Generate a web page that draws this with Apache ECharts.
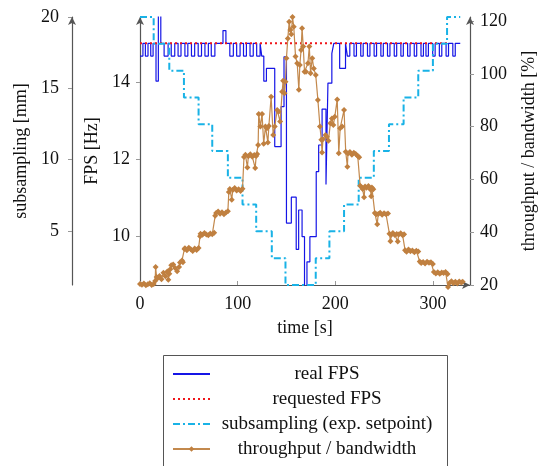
<!DOCTYPE html>
<html>
<head>
<meta charset="utf-8">
<script src="https://cdn.jsdelivr.net/npm/echarts@6/dist/echarts.min.js"></script>
<style>
html,body{margin:0;padding:0;background:#fff;}
#chart{width:547px;height:466px;}
</style>
</head>
<body>
<div id="chart"></div>
<script>
// tick positions
var timeTicks = [0, 100, 200, 300];
var fpsTicks = [10, 12, 14];
var subTicks = [5, 10, 15, 20];
var thrTicks = [20, 40, 60, 80, 100, 120];

// real FPS, [time s, Hz], each value holds until the next time
var realFps = [
    [0,14.67],[3,15],[5.5,14.67],[8.2,15],[11,14.67],[13.4,15],[16.4,14.02],[18.8,15.9],[21.3,15],
    [24.7,14.67],[28.8,15],[32,14.67],[35.6,15],[39,14.67],[42,15],[46,14.67],[49,15],[52.7,14.67],[56,15],
    [59.6,14.67],[63,15],[66.5,14.67],[70,15],[73,14.67],[76.7,15],[85,15.33],[88,15],
    [92,14.67],[95.6,15],[99,14.67],[102.5,15],[106,14.67],[109,15],[112.7,14.67],[116,15],[119.5,14.67],[123,15],
    [124.7,14.67],[126.8,14.02],[129.5,14.35],[138,12.33],[144.5,13.36],[147.5,14.65],[150,10.35],[155,11.02],
    [160,9.67],[162.5,10.69],[166,10.0],[168.5,8.6],[171,9.35],[174,10.0],[180.5,11.68],[183,12.37],[186.5,13.3],
    [190.5,11.35],[192.5,13.97],[196.5,14.74],[198.5,15],[204.5,14.35],[210.5,15],
    [212.4,14.67],[214.9,15],[219.2,14.67],[221.7,15],[226.1,14.67],[228.6,15],[233,14.67],[235.5,15],
    [239.8,14.67],[242.3,15],[246.7,14.67],[249.2,15],[253.5,14.67],[256,15],[260.4,14.67],[262.9,15],
    [267.2,14.67],[269.7,15],[274.1,14.67],[276.6,15],[280.9,14.67],[283.4,15],[287.8,14.67],[290.3,15],
    [292.9,14.67],[295.4,15],[299.8,14.67],[302.3,15],[306.6,14.67],[309.1,15],[313.5,14.67],[316,15],
    [320.4,14.67],[322.9,15],[328,15]
];

// requested FPS
var requestedFps = [[0,15],[316,15]];

// subsampling setpoint [time s, mm]
var subsampling = [
    [0,20],[14,18.12],[30,16.24],[45,14.36],[60,12.48],[74,10.6],[90,8.73],[105,6.85],[119,4.97],[135,3.09],
    [149,1.21],[180,3.09],[194,4.97],[209,6.85],[224,8.73],[239.5,10.6],[255,12.48],[270,14.36],[285,16.24],
    [300,18.12],[314.5,20],[328,20]
];

// throughput / bandwidth [time s, %]
var throughput = [
    [0,20.4],[2,20.1],[4,20.6],[6,19.9],[8,20.3],[10,20.7],[12,20.0],[14,20.4],[15.5,21.5],[16,26.8],[17,23.0],
    [18,22.6],[20,23.4],[22,22.2],[24,24.6],[26,23.3],[28,25.1],[29,22.0],[30,24.3],
    [31,26.0],[32,27.5],[34,27.8],[36,26.4],[38,25.2],[40,26.8],[41,28.5],[43,29.3],[44,28.6],
    [45.5,33.6],[46,33.9],[48,33.2],[50,34.1],[52,33.5],[54,32.9],[56,33.8],[58,33.3],[60,34.0],
    [61.5,38.5],[62,39.4],[64,39.0],[66,39.7],[68,39.1],[70,38.8],[72,39.5],[74,39.2],[76,39.8],
    [77,46.2],[78,47.3],[80,47.8],[82,47.0],[84,47.6],[86,46.8],[88,47.5],[90,47.9],
    [91,55.2],[92,56.4],[94,52.3],[95,56.0],[97,56.7],[99,55.8],[101,56.3],[103,55.6],[105,56.5],
    [106.5,68.5],[108,69.3],[110,64.5],[111,68.8],[113,69.5],[115,68.6],[117,69.2],[118,64.3],[119,68.9],[120,69.6],
    [121,73.0],[121.6,84.8],[123.3,80.0],[125,84.8],[126.7,73.5],[128.5,80.0],[130,79.4],[131,74.0],[132,80.2],
    [134.3,91.3],[136.4,76.8],[138,80.0],[140.5,86.3],[142,85.6],[143.5,81.9],[145.6,93.2],[146.6,97.4],[148,92.6],
    [149,97.0],[150,105.9],[151.4,113.4],[152.8,119.7],[154,116.6],[155,115.0],[156.2,121.5],[157.5,117.8],
    [159.3,106.5],[161,104.0],[162.7,93.9],[163.7,103.3],[165,109.0],[166,117.2],[167.2,110.3],[168.5,100.8],
    [170,100.8],[172,104.0],[173.4,110.3],[174.7,100.2],[176.4,105.9],[178,102.0],[180,99.5],[182.2,90.1],
    [184.3,80.0],[185.7,75.0],[186.5,70.2],[187.4,75.2],[190,76.8],[191.4,76.1],[193,74.6],[195,81.3],[196.6,83.1],
    [198,80.6],[199.5,83.7],[202,90.3],[203.6,69.9],[205,79.4],[207,80.0],[209,86.3],[210.7,70.5],
    [212.4,64.8],[213,69.8],[215,70.4],[217,69.3],[219,70.1],[221,69.6],[223,68.9],[224.5,68.4],
    [225.5,57.6],[227,57.0],[228,56.4],[229.5,53.2],[230.5,57.3],[232,56.8],[234,57.5],[236,56.2],[236.8,53.6],
    [237.5,56.9],[239,56.3],
    [240.5,47.3],[242,46.8],[243,43.0],[244,46.9],[246,47.4],[248,46.6],[250,47.2],[252,46.8],[254,47.1],
    [255.5,39.4],[256.5,36.6],[257.5,39.0],[259,39.7],[261,38.9],[263,39.3],[264,36.5],[265,39.1],[267,39.6],
    [269,38.8],[270.5,39.2],
    [271.5,33.2],[273,32.6],[275,33.4],[277,32.8],[279,33.1],[281,32.4],[283,33.0],[285,32.7],
    [286.5,28.9],[288,28.3],[290,28.7],[292,28.1],[294,28.8],[296,28.4],[298,28.6],[300,28.0],
    [301,24.9],[303,24.4],[305,24.8],[307,24.3],[309,24.7],[311,24.5],[313,24.9],[315,24.2],
    [315.5,19.2],[317,20.8],[319,21.4],[321,20.7],[323,21.2],[325,20.6],[327,21.3],[329,20.9],[330.5,21.2]
];

var serif = 'Liberation Serif';
var axisCol = '#555';
var tickCol = '#999';

function yAx(pos, offset, min, max, ticks, name, gap, margin) {
    return {
        type: 'value', position: pos, offset: offset, min: min, max: max,
        name: name, nameLocation: 'middle', nameGap: gap, nameRotate: 90,
        nameTextStyle: {fontFamily: serif, fontSize: 18, color: '#111'},
        splitLine: {show: false},
        axisLine: {show: true, onZero: false, lineStyle: {color: axisCol, width: 1.2},
            symbol: ['none', 'arrow'], symbolSize: [6, 8]},
        axisTick: {show: true, length: 4, customValues: ticks, lineStyle: {color: tickCol}},
        axisLabel: {customValues: ticks, margin: margin, fontFamily: serif, fontSize: 18, color: '#111'}
    };
}

var hideSym = {opacity: 0};

var myChart = echarts.init(document.getElementById('chart'));
var option = {
    animation: false,
    grid: {left: 140, right: 77, top: 17, bottom: 181, outerBoundsMode: 'none'},
    graphic: [{
        type: 'rect', silent: true,
        shape: {x: 163.5, y: 355.5, width: 284, height: 130},
        style: {fill: 'none', stroke: '#555', lineWidth: 1}
    }],
    legend: {
        orient: 'vertical', left: 163, top: 356,
        padding: [8, 9, 0, 9], itemGap: 5, itemWidth: 37, itemHeight: 7,
        textStyle: {fontFamily: serif, fontSize: 19, color: '#111', lineHeight: 20,
            rich: {c: {width: 224, align: 'center', fontFamily: serif, fontSize: 19, lineHeight: 20}}},
        formatter: function (n) { return '{c|' + n + '}'; },
        data: [
            {name: 'real FPS', itemStyle: hideSym},
            {name: 'requested FPS', itemStyle: hideSym},
            {name: 'subsampling (exp. setpoint)', itemStyle: hideSym},
            {name: 'throughput / bandwidth'}
        ]
    },
    xAxis: {
        type: 'value', min: 0, max: 338,
        name: 'time [s]', nameLocation: 'middle', nameGap: 34,
        nameTextStyle: {fontFamily: serif, fontSize: 18, color: '#111'},
        splitLine: {show: false},
        axisLine: {onZero: false, lineStyle: {color: axisCol, width: 1.2},
            symbol: ['none', 'arrow'], symbolSize: [6, 8]},
        axisTick: {inside: true, length: 4, customValues: timeTicks, lineStyle: {color: tickCol}},
        axisLabel: {customValues: timeTicks, margin: 10, fontFamily: serif, fontSize: 18, color: '#111'}
    },
    yAxis: [
        yAx('left', 0, 8.75, 15.68, fpsTicks, 'FPS [Hz]', 38, 10),
        yAx('left', 68, 1.21, 20, subTicks, 'subsampling [mm]', 38, 13),
        yAx('right', 0, 20, 121.5, thrTicks, 'throughput / bandwidth [%]', 50, 10)
    ],
    series: [
        {
            name: 'real FPS', type: 'line', yAxisIndex: 0, step: 'end', data: realFps,
            symbol: 'none', lineStyle: {color: '#1515e6', width: 1.2}, itemStyle: {color: '#1515e6'}
        },
        {
            name: 'requested FPS', type: 'line', yAxisIndex: 0, data: requestedFps,
            symbol: 'none', lineStyle: {color: '#f0151a', width: 2, type: [2, 3]}, itemStyle: {color: '#f0151a'}
        },
        {
            name: 'subsampling (exp. setpoint)', type: 'line', yAxisIndex: 1, step: 'end', data: subsampling,
            symbol: 'none', clip: false,
            lineStyle: {color: '#19b2e6', width: 2, type: [7, 3, 2, 3]}, itemStyle: {color: '#19b2e6'}
        },
        {
            name: 'throughput / bandwidth', type: 'line', yAxisIndex: 2, data: throughput,
            symbol: 'diamond', symbolSize: 6, clip: false,
            lineStyle: {color: '#c3894d', width: 1.2}, itemStyle: {color: '#c08040'}
        }
    ]
};
myChart.setOption(option);
window.addEventListener('resize', function () {
    myChart.resize();
});
</script>
</body>
</html>
